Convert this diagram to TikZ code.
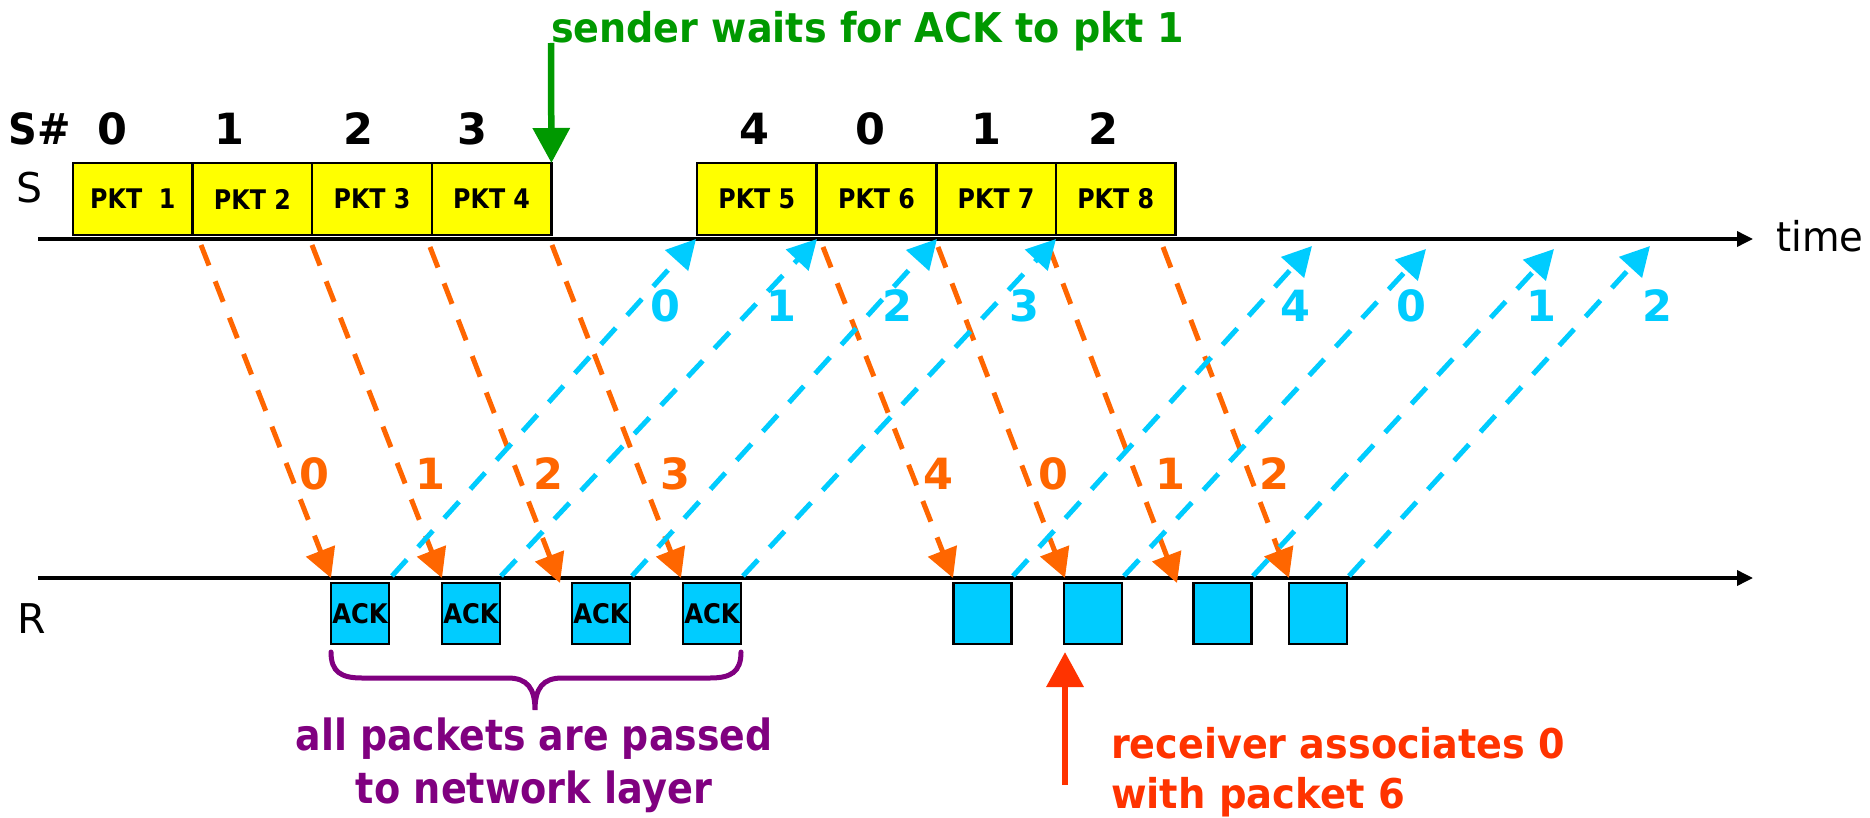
\documentclass[tikz,border=0pt]{standalone}
\usepackage{fontspec}
\usepackage{graphicx}
\setmainfont{DejaVu Sans}
\usetikzlibrary{arrows.meta}
\definecolor{pktyellow}{HTML}{FFFF00}
\definecolor{ackcyan}{HTML}{00CCFF}
\definecolor{dataorange}{HTML}{FF6600}
\definecolor{notegreen}{HTML}{009900}
\definecolor{notepurple}{HTML}{800080}
\definecolor{notered}{HTML}{FF3300}
\newcommand\fsz[1]{\fontsize{#1}{#1}\selectfont}
\newcommand\narrow[2]{\scalebox{#1}[1]{#2}}

\begin{document}
\begin{tikzpicture}[x=1pt,y=-1pt,
  every node/.style={inner sep=0pt, outer sep=0pt},
  pktbox/.style={draw=black, line width=2.5pt, fill=pktyellow,
    minimum width=119.6pt, minimum height=72pt, font=\bfseries\fsz{27}},
  ackbox/.style={draw=black, line width=2.5pt, fill=ackcyan,
    minimum width=58pt, minimum height=61pt, font=\bfseries\fsz{27}},
  timeline/.style={line width=3.5pt, -{Triangle[length=16pt,width=15pt]}},
  datamsg/.style={dataorange, line width=5pt, dash pattern=on 22pt off 17pt,
    -{Triangle[length=29pt,width=30pt]}},
  ackmsg/.style={ackcyan, line width=5pt, dash pattern=on 22pt off 17pt,
    -{Triangle[length=29pt,width=30pt]}},
  seqnum/.style={anchor=base, font=\bfseries\fsz{43}},
  datanum/.style={seqnum, text=dataorange},
  acknum/.style={seqnum, text=ackcyan},
  callout/.style={line width=6.5pt, -{Triangle[length=35pt,width=36pt]}},
  notetext/.style={font=\bfseries\fsz{41}},
  axislabel/.style={anchor=base, font=\fsz{41}},
]
\fill[white] (0,0) rectangle (1870,818);
\useasboundingbox (0,0) rectangle (1870,818);

% time axes of sender and receiver
\coordinate (S0) at (38,239);  \coordinate (S1) at (1753,239);
\coordinate (R0) at (38,578);  \coordinate (R1) at (1753,578);
\draw[timeline] (S0) -- (S1);
\draw[timeline] (R0) -- (R1);
\node[axislabel] (slabel) at (29.5,203) {S};
\node[axislabel] (rlabel) at (32,633) {R};
\node[axislabel] (timelabel) at (1820,252) {\narrow{0.94}{time}};

% frames sent by the sender
\node[pktbox] (p1) at (132.8,199) {\narrow{0.88}{PKT\ \ 1}};
\node[pktbox] (p2) at (252.4,199) {\narrow{0.88}{PKT 2}};
\node[pktbox] (p3) at (372.0,199) {\narrow{0.88}{PKT 3}};
\node[pktbox] (p4) at (491.6,199) {\narrow{0.88}{PKT 4}};
\node[pktbox] (p5) at (756.8,199) {\narrow{0.88}{PKT 5}};
\node[pktbox] (p6) at (876.5,199) {\narrow{0.88}{PKT 6}};
\node[pktbox] (p7) at (996.1,199) {\narrow{0.88}{PKT 7}};
\node[pktbox] (p8) at (1115.7,199) {\narrow{0.88}{PKT 8}};

% sequence numbers of the frames
\node[seqnum] (shash) at (40,145) {\narrow{0.93}{S\#}};
\node[seqnum] (sq1) at (112,145) {0};
\node[seqnum] (sq2) at (229,145) {1};
\node[seqnum] (sq3) at (358,145) {2};
\node[seqnum] (sq4) at (472,145) {3};
\node[seqnum] (sq5) at (754,145) {4};
\node[seqnum] (sq6) at (870,145) {0};
\node[seqnum] (sq7) at (986,145) {1};
\node[seqnum] (sq8) at (1103,145) {2};

% frames delivered at the receiver
\node[ackbox] (a1) at (360,613.5) {\narrow{0.9}{ACK}};
\node[ackbox] (a2) at (471,613.5) {\narrow{0.9}{ACK}};
\node[ackbox] (a3) at (601,613.5) {\narrow{0.9}{ACK}};
\node[ackbox] (a4) at (712,613.5) {\narrow{0.9}{ACK}};
\node[ackbox] (a5) at (982.5,613.5) {};
\node[ackbox] (a6) at (1093,613.5) {};
\node[ackbox] (a7) at (1222.5,613.5) {};
\node[ackbox] (a8) at (1318,613.5) {};

% data frames in flight
\foreach \n/\xs/\ys/\xe/\ye in {1/201/245/331/578, 2/312/245/442/578,
    3/430/247/560/583, 4/552/245/681/578, 5/823/247/953/578,
    6/938/247/1065/578, 7/1049/247/1177/583, 8/1163/247/1289/578}{
  \coordinate (ds\n) at (\xs,\ys);
  \coordinate (de\n) at (\xe,\ye);
  \draw[datamsg] (ds\n) -- (de\n);
}
% acknowledgements in flight
\foreach \n/\xs/\ys/\xe/\ye in {1/392/576/696/239, 2/501/576/817/239,
    3/632/576/937/239, 4/743/576/1056/239, 5/1013/576/1312/246,
    6/1124/576/1426/249, 7/1253/576/1554/249, 8/1349/576/1650/246}{
  \coordinate (as\n) at (\xs,\ys);
  \coordinate (ae\n) at (\xe,\ye);
  \draw[ackmsg] (as\n) -- (ae\n);
}

% numbers carried by the data frames
\node[datanum] (dn1) at (314,489) {0};
\node[datanum] (dn2) at (430,489) {1};
\node[datanum] (dn3) at (548,489) {2};
\node[datanum] (dn4) at (675,489) {3};
\node[datanum] (dn5) at (938,489) {4};
\node[datanum] (dn6) at (1053,489) {0};
\node[datanum] (dn7) at (1170,489) {1};
\node[datanum] (dn8) at (1274,489) {2};

% numbers carried by the acknowledgements
\node[acknum] (an1) at (665,321) {0};
\node[acknum] (an2) at (781,321) {1};
\node[acknum] (an3) at (897,321) {2};
\node[acknum] (an4) at (1024,321) {3};
\node[acknum] (an5) at (1295,321) {4};
\node[acknum] (an6) at (1411,321) {0};
\node[acknum] (an7) at (1541,321) {1};
\node[acknum] (an8) at (1657,321) {2};

% sender blocked with a full window
\coordinate (gtop) at (551,43);
\draw[callout, notegreen] (gtop) -- (p4.north east);
\node[notetext, text=notegreen, anchor=base west] (gnote) at (551,43)
  {\narrow{0.93}{sender waits for ACK to pkt 1}};

% brace under the delivered frames
\draw[notepurple, line width=5pt, line cap=round]
  (331,652) .. controls (331,672) and (341,678) .. (362,678)
  -- (508,678) .. controls (527,678) and (535,688) .. (535,710)
  .. controls (535,688) and (543,678) .. (562,678)
  -- (710,678) .. controls (731,678) and (741,672) .. (741,652);
\node[notetext, text=notepurple, anchor=base, font=\bfseries\fsz{43}] (pnote1) at (534,750)
  {\narrow{0.88}{all packets are passed}};
\node[notetext, text=notepurple, anchor=base, font=\bfseries\fsz{43}] (pnote2) at (534,803)
  {\narrow{0.89}{to network layer}};

% wrong association at the receiver
\coordinate (rfoot) at (1065,785);
\coordinate (rtip) at (1065,652);
\draw[callout, notered] (rfoot) -- (rtip);
\node[notetext, text=notered, anchor=base west] (rnote1) at (1111,758)
  {\narrow{0.93}{receiver associates 0}};
\node[notetext, text=notered, anchor=base west] (rnote2) at (1111,808)
  {\narrow{0.94}{with packet 6}};
\end{tikzpicture}
\end{document}
